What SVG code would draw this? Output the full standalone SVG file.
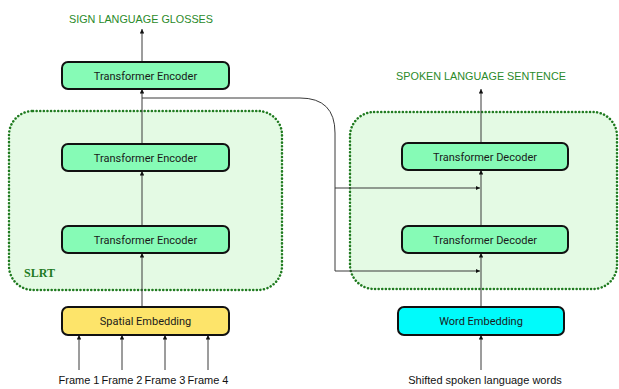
<svg xmlns="http://www.w3.org/2000/svg" width="619" height="389" viewBox="0 0 619 389">
<defs>
<style>
.box{stroke:#111;stroke-width:2;}
.enc{fill:#86fbb6;}
.lbl{font-family:Roboto,"Liberation Sans",sans-serif;font-size:11px;fill:#1a1a1a;text-anchor:middle;}
.hdr{font-family:"Liberation Sans",Arial,sans-serif;font-size:10.8px;fill:#2a8a2a;text-anchor:middle;}
.in{font-family:"Liberation Sans",Arial,sans-serif;font-size:11px;fill:#111;text-anchor:middle;}
.grp{fill:#e4fae4;stroke:#1f7a1f;stroke-width:2.5;stroke-dasharray:0.1 3.5;stroke-linecap:round;}
.c{fill:none;stroke:#3a3a3a;stroke-width:1;}
</style>
<marker id="ah" viewBox="0 0 6 6" refX="6" refY="3" markerWidth="4.5" markerHeight="4.5" orient="auto" markerUnits="userSpaceOnUse">
<path d="M0,0 L6,3 L0,6 z" fill="#111"/>
</marker>
</defs>
<rect width="619" height="389" fill="#fff"/>
<g id="slrt">
<rect class="grp" x="9" y="111" width="273" height="179" rx="24"/>
<text x="24" y="277" font-family="'Liberation Serif',serif" font-weight="bold" font-size="12" fill="#1f7a1f">SLRT</text>
</g>
<g id="decoder-group">
<rect class="grp" x="350" y="112" width="267" height="177" rx="24"/>
</g>
<g id="connectors">
<path class="c" d="M142,62 V29" marker-end="url(#ah)"/>
<path class="c" d="M142,144 V89" marker-end="url(#ah)"/>
<path class="c" d="M142,226 V171" marker-end="url(#ah)"/>
<path class="c" d="M142,307 V253" marker-end="url(#ah)"/>
<path class="c" d="M79,370 V335" marker-end="url(#ah)"/>
<path class="c" d="M122,370 V335" marker-end="url(#ah)"/>
<path class="c" d="M165,370 V335" marker-end="url(#ah)"/>
<path class="c" d="M208,370 V335" marker-end="url(#ah)"/>
<path class="c" d="M142,98 H300 Q335,98 335,133 V271 H480" marker-end="url(#ah)"/>
<path class="c" d="M335,188 H480" marker-end="url(#ah)"/>
<path class="c" d="M481,143 V89" marker-end="url(#ah)"/>
<path class="c" d="M481,225 V170" marker-end="url(#ah)"/>
<path class="c" d="M481,307 V253" marker-end="url(#ah)"/>
<path class="c" d="M481,370 V335" marker-end="url(#ah)"/>
</g>
<g id="enc-top">
<rect class="box enc" x="62" y="62" width="167" height="27" rx="6"/>
<text class="lbl" x="145.5" y="79.5">Transformer Encoder</text>
</g>
<g id="enc-mid">
<rect class="box enc" x="62" y="144" width="167" height="27" rx="6"/>
<text class="lbl" x="145.5" y="161.5">Transformer Encoder</text>
</g>
<g id="enc-low">
<rect class="box enc" x="62" y="226" width="167" height="27" rx="6"/>
<text class="lbl" x="145.5" y="243.5">Transformer Encoder</text>
</g>
<g id="spatial">
<rect class="box" fill="#fde46a" x="62" y="307" width="167" height="28" rx="6"/>
<text class="lbl" x="145.5" y="325">Spatial Embedding</text>
</g>
<g id="dec-top">
<rect class="box enc" x="402" y="143" width="166" height="27" rx="6"/>
<text class="lbl" x="485" y="160.5">Transformer Decoder</text>
</g>
<g id="dec-low">
<rect class="box enc" x="402" y="226" width="166" height="27" rx="6"/>
<text class="lbl" x="485" y="243.5">Transformer Decoder</text>
</g>
<g id="word">
<rect class="box" fill="#00fbfb" x="398" y="307" width="166" height="28" rx="6"/>
<text class="lbl" x="481" y="325">Word Embedding</text>
</g>
<g id="labels">
<text class="hdr" x="141" y="23">SIGN LANGUAGE GLOSSES</text>
<text class="hdr" x="481" y="80">SPOKEN LANGUAGE SENTENCE</text>
<text class="in" x="79" y="384">Frame 1</text>
<text class="in" x="122" y="384">Frame 2</text>
<text class="in" x="165" y="384">Frame 3</text>
<text class="in" x="208" y="384">Frame 4</text>
<text class="in" x="485" y="384">Shifted spoken language words</text>
</g>
</svg>
